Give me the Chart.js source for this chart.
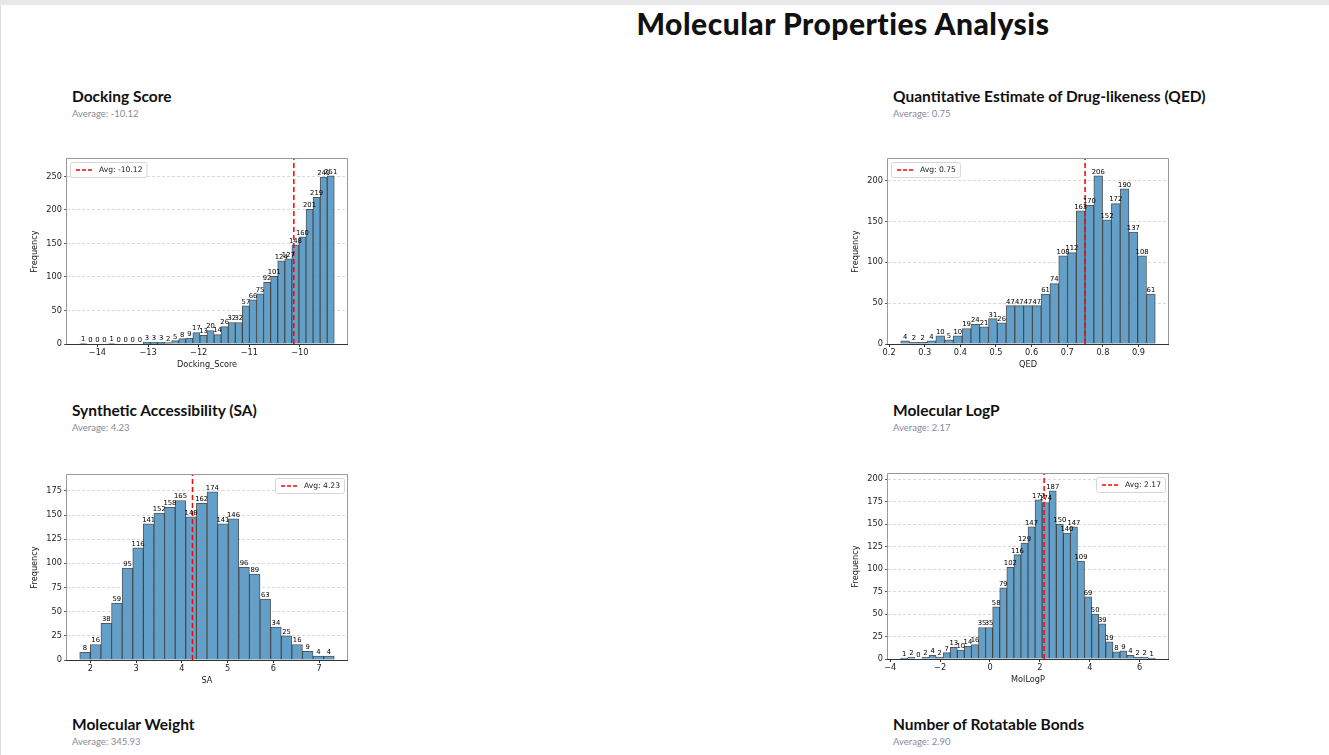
<!DOCTYPE html>
<html>
<head>
<meta charset="utf-8">
<title>Molecular Properties Analysis</title>
<script src="https://cdn.jsdelivr.net/npm/chart.js@4.4.0/dist/chart.umd.min.js"></script>
<style>
  html, body { margin: 0; padding: 0; background: #fff; overflow: hidden; }
  body { width: 1329px; height: 755px; position: relative; font-family: 'Lato', 'Inter', sans-serif; color: #111; }
  .topbar { position: absolute; left: 0; top: 0; width: 1329px; height: 5px; background: #e8e8eb; }
  .frame { position: absolute; left: 0; top: 5px; width: 1328px; height: 750px; border-left: 1px solid #ddd; }
  h1 { position: absolute; left: 543px; top: 3px; width: 600px; margin: 0; text-align: center;
       font-size: 30px; line-height: 40px; font-weight: 900; letter-spacing: 0.5px; }
  h2 { position: absolute; margin: 0; font-size: 15.5px; line-height: 18px; font-weight: 700; white-space: nowrap; }
  .avg { position: absolute; margin: 0; font-size: 9.5px; line-height: 12px; color: #8a8a9c; white-space: nowrap; }
  canvas { position: absolute; }
</style>
</head>
<body>
<div class="topbar"></div>
<div class="frame"></div>
<h1>Molecular Properties Analysis</h1>

<h2 style="left:72px; top:87px">Docking Score</h2>
<p class="avg" style="left:72px; top:108px">Average: -10.12</p>
<h2 style="left:893px; top:87px">Quantitative Estimate of Drug-likeness (QED)</h2>
<p class="avg" style="left:893px; top:108px">Average: 0.75</p>

<h2 style="left:72px; top:401px">Synthetic Accessibility (SA)</h2>
<p class="avg" style="left:72px; top:422px">Average: 4.23</p>
<h2 style="left:893px; top:401px">Molecular LogP</h2>
<p class="avg" style="left:893px; top:422px">Average: 2.17</p>

<h2 style="left:72px; top:715px">Molecular Weight</h2>
<p class="avg" style="left:72px; top:736px">Average: 345.93</p>
<h2 style="left:893px; top:715px">Number of Rotatable Bonds</h2>
<p class="avg" style="left:893px; top:736px">Average: 2.90</p>

<canvas id="dockChart" width="340" height="230" style="left:20px; top:150px"></canvas>
<canvas id="qedChart" width="340" height="230" style="left:841px; top:150px"></canvas>
<canvas id="saChart" width="340" height="230" style="left:20px; top:466px"></canvas>
<canvas id="logpChart" width="340" height="230" style="left:841px; top:465px"></canvas>

<script>
// histogram counts
const dockCounts = [1, 0, 0, 0, 1, 0, 0, 0, 0, 3, 3, 3, 2, 5, 8, 9, 17, 13, 20, 14, 26, 32, 32, 57, 66, 75, 92, 101, 124, 127, 148, 160, 201, 219, 249, 251];
const dockBinStart = -14.35;
const dockBinWidth = 0.1397;
const dockAvg = -10.12;
const dockXTicks = [-14, -13, -12, -11, -10];
const dockYTicks = [0, 50, 100, 150, 200, 250];

const qedCounts = [4, 2, 2, 4, 10, 5, 10, 19, 24, 21, 31, 26, 47, 47, 47, 47, 61, 74, 108, 112, 163, 170, 206, 152, 172, 190, 137, 108, 61];
const qedBinStart = 0.2327;
const qedBinWidth = 0.02463;
const qedAvg = 0.75;
const qedXTicks = [0.2, 0.3, 0.4, 0.5, 0.6, 0.7, 0.8, 0.9];
const qedYTicks = [0, 50, 100, 150, 200];

const saCounts = [8, 16, 38, 59, 95, 116, 141, 152, 158, 165, 148, 162, 174, 141, 146, 96, 89, 63, 34, 25, 16, 9, 4, 4];
const saBinStart = 1.766;
const saBinWidth = 0.2318;
const saAvg = 4.23;
const saXTicks = [2, 3, 4, 5, 6, 7];
const saYTicks = [0, 25, 50, 75, 100, 125, 150, 175];

const logpCounts = [1, 2, 0, 2, 4, 2, 7, 13, 10, 14, 16, 35, 35, 58, 79, 102, 116, 129, 147, 177, 174, 187, 150, 140, 147, 109, 69, 50, 39, 19, 8, 9, 4, 2, 2, 1];
const logpBinStart = -3.579;
const logpBinWidth = 0.2835;
const logpAvg = 2.17;
const logpXTicks = [-4, -2, 0, 2, 4, 6];
const logpYTicks = [0, 25, 50, 75, 100, 125, 150, 175, 200];

const mplFont = 'DejaVu Sans';
const minus = v => String(v).replace('-', '\u2212');

// spines drawn over the bars, like matplotlib
const spines = {
  id: 'spines',
  afterDatasetsDraw(chart) {
    const {ctx, chartArea: a} = chart;
    ctx.save();
    ctx.lineWidth = 1;
    ctx.strokeStyle = '#999';
    ctx.beginPath();
    ctx.moveTo(a.left - 0.5, a.bottom);
    ctx.lineTo(a.left - 0.5, a.top - 0.5);
    ctx.lineTo(a.right + 0.5, a.top - 0.5);
    ctx.lineTo(a.right + 0.5, a.bottom);
    ctx.stroke();
    ctx.strokeStyle = '#333';
    ctx.beginPath();
    ctx.moveTo(a.left - 1, a.bottom + 0.5);
    ctx.lineTo(a.right + 1, a.bottom + 0.5);
    ctx.stroke();
    ctx.restore();
  }
};

// count written on top of every bar
const barLabels = {
  id: 'barLabels',
  afterDatasetsDraw(chart) {
    const {ctx} = chart;
    const meta = chart.getDatasetMeta(1);
    const vals = chart.data.datasets[1].data;
    ctx.save();
    ctx.font = '6.8px "' + mplFont + '"';
    ctx.fillStyle = '#000';
    ctx.textAlign = 'center';
    ctx.textBaseline = 'bottom';
    meta.data.forEach((bar, i) => {
      ctx.fillText(String(vals[i].y), bar.x, bar.y - 0.5);
    });
    ctx.restore();
  }
};

// framed legend inside the axes
const avgLegend = {
  id: 'avgLegend',
  afterDraw(chart, args, opts) {
    const {ctx, chartArea: a} = chart;
    ctx.save();
    ctx.font = '7.6px "' + mplFont + '"';
    const tw = ctx.measureText(opts.text).width;
    const w = tw + 33, h = 15;
    const x = opts.side === 'left' ? a.left + 3 : a.right - 3 - w;
    const y = a.top + 3;
    ctx.fillStyle = 'rgba(255,255,255,0.85)';
    ctx.strokeStyle = '#d6d6d6';
    ctx.lineWidth = 1;
    ctx.beginPath();
    ctx.roundRect(Math.round(x) + 0.5, Math.round(y) + 0.5, w, h, 2);
    ctx.fill();
    ctx.stroke();
    ctx.strokeStyle = 'red';
    ctx.lineWidth = 1.3;
    ctx.setLineDash([4, 2]);
    ctx.beginPath();
    ctx.moveTo(x + 6, y + h / 2 + 0.5);
    ctx.lineTo(x + 23, y + h / 2 + 0.5);
    ctx.stroke();
    ctx.setLineDash([]);
    ctx.fillStyle = '#222';
    ctx.textBaseline = 'middle';
    ctx.fillText(opts.text, x + 29, y + h / 2 + 1);
    ctx.restore();
  }
};

function histogram(id, counts, binStart, binWidth, avg, xTicks, yTicks, xTitle, xFmt, side) {
  const points = counts.map((c, i) => ({x: binStart + (i + 0.5) * binWidth, y: c}));
  const binEnd = binStart + counts.length * binWidth;
  const margin = (binEnd - binStart) * 0.05;
  const yMax = Math.max(...counts) * 1.1;
  const tickFont = {family: mplFont, size: 8.2};

  new Chart(document.getElementById(id), {
    type: 'bar',
    data: {
      datasets: [{
        type: 'line',
        data: [{x: avg, y: 0}, {x: avg, y: yMax}],
        borderColor: 'red',
        borderWidth: 1.5,
        borderDash: [5, 3],
        pointRadius: 0,
        order: 0
      }, {
        data: points,
        backgroundColor: '#62a0ca',
        borderColor: 'rgba(30,30,30,0.75)',
        borderWidth: 1,
        categoryPercentage: 1,
        barPercentage: 1,
        order: 1
      }]
    },
    options: {
      responsive: false,
      animation: false,
      layout: {padding: {top: 9, right: 13, bottom: 0, left: 0}},
      scales: {
        x: {
          type: 'linear',
          min: binStart - margin,
          max: binEnd + margin,
          offset: false,
          afterBuildTicks: s => { s.ticks = xTicks.map(v => ({value: v})); },
          afterFit: s => { s.height = 36; },
          ticks: {callback: xFmt, font: tickFont, color: '#222', padding: 1, maxRotation: 0, autoSkip: false},
          grid: {drawOnChartArea: false, offset: false, tickLength: 3, tickColor: '#333'},
          border: {display: false},
          title: {display: true, text: xTitle, font: tickFont, color: '#222', padding: {top: 0, bottom: 10}}
        },
        y: {
          min: 0,
          max: yMax,
          afterBuildTicks: s => { s.ticks = yTicks.map(v => ({value: v})); },
          afterFit: s => { s.width = 47; },
          ticks: {font: tickFont, color: '#222', padding: 2},
          grid: {color: '#cfcfcf', lineWidth: 0.8, tickLength: 3, tickColor: '#333'},
          border: {display: false, dash: [3, 2]},
          title: {display: true, text: 'Frequency', font: tickFont, color: '#222', padding: {top: 10, bottom: 0}}
        }
      },
      plugins: {
        legend: {display: false},
        tooltip: {enabled: false},
        avgLegend: {text: 'Avg: ' + avg.toFixed(2), side: side}
      }
    },
    plugins: [spines, barLabels, avgLegend]
  });
}

histogram('dockChart', dockCounts, dockBinStart, dockBinWidth, dockAvg, dockXTicks, dockYTicks, 'Docking_Score', v => minus(v), 'left');
histogram('qedChart', qedCounts, qedBinStart, qedBinWidth, qedAvg, qedXTicks, qedYTicks, 'QED', v => v.toFixed(1), 'left');
histogram('saChart', saCounts, saBinStart, saBinWidth, saAvg, saXTicks, saYTicks, 'SA', v => minus(v), 'right');
histogram('logpChart', logpCounts, logpBinStart, logpBinWidth, logpAvg, logpXTicks, logpYTicks, 'MolLogP', v => minus(v), 'right');
</script>
</body>
</html>
